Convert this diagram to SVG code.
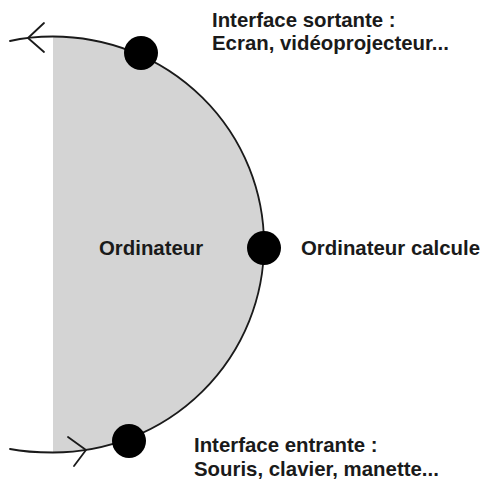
<svg xmlns="http://www.w3.org/2000/svg" width="483" height="481" viewBox="0 0 483 481">
<style>
.t{font-family:"Liberation Sans",Arial,sans-serif;font-weight:bold;font-size:20.4px;fill:#1a1a1a}
.ln{fill:none;stroke:#1a1a1a;stroke-width:1.8;stroke-linecap:round;stroke-linejoin:round}
.dot{fill:#000}
</style>
<rect width="483" height="481" fill="#fff"/>
<g id="ordinateur">
<path d="M53,36.5 A211,208 0 0,1 53,452.5 Z" fill="#d4d4d4"/>
<text class="t" x="99" y="255">Ordinateur</text>
</g>
<g id="connectors">
<path class="ln" d="M10,41 C25,37.5 40,36.5 53,36.5 A211,208 0 0,1 53,452.5 C40,452.5 25,452 10,449"/>
<polyline class="ln" points="44,23 28,38 44,52"/>
<polyline class="ln" points="68,437 86,450 74,466"/>
</g>
<g id="sortante">
<circle class="dot" cx="141" cy="53" r="17"/>
<text class="t" x="212" y="27">Interface sortante :</text>
<text class="t" x="212" y="50">Ecran, vidéoprojecteur...</text>
</g>
<g id="calcule">
<circle class="dot" cx="264" cy="248" r="17"/>
<text class="t" x="301" y="255">Ordinateur calcule</text>
</g>
<g id="entrante">
<circle class="dot" cx="129" cy="441" r="17"/>
<text class="t" x="194" y="452">Interface entrante :</text>
<text class="t" x="194" y="476">Souris, clavier, manette...</text>
</g>
</svg>
